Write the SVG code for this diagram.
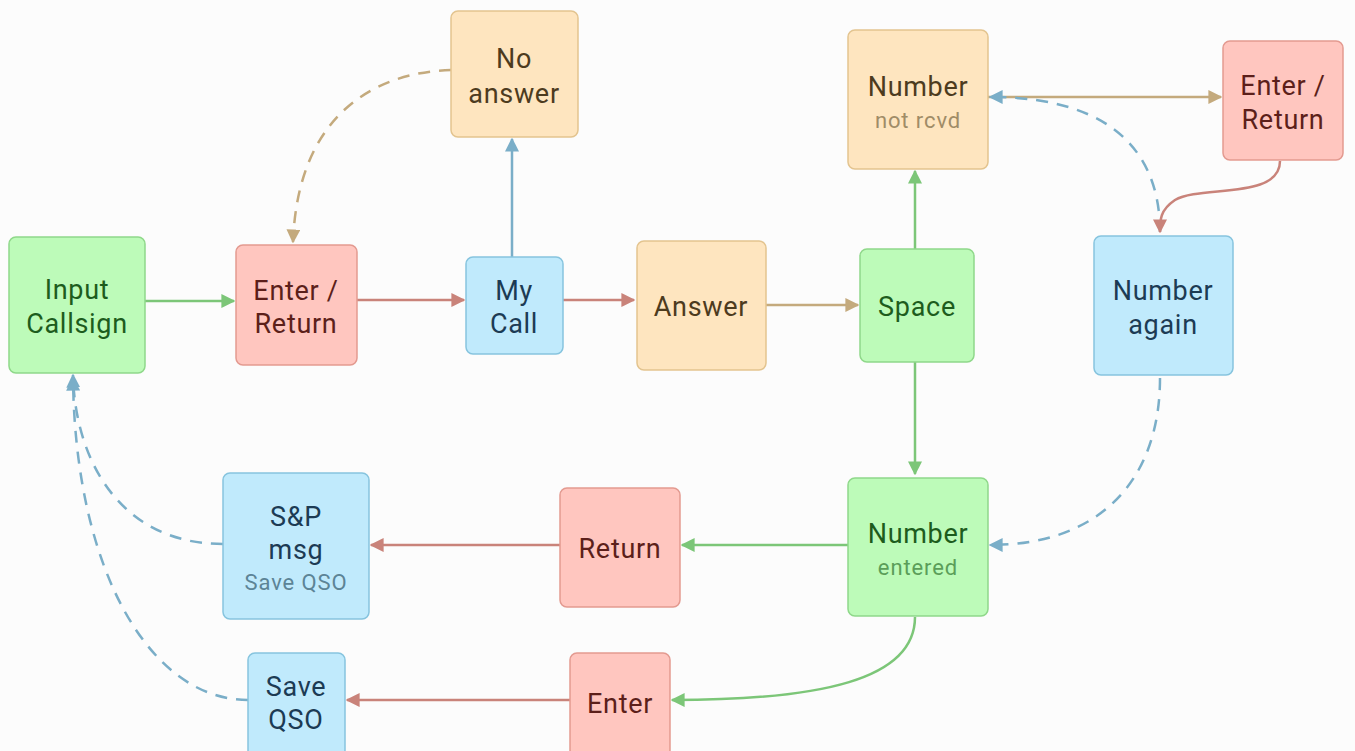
<svg xmlns="http://www.w3.org/2000/svg" width="1355" height="751" viewBox="0 0 1355 751">
<style>
.n rect{stroke-width:1.5}
.g rect{fill:#bdfbb9;stroke:#8fd88a}
.r rect{fill:#ffc6bf;stroke:#e39a90}
.b rect{fill:#c0eafc;stroke:#86c4de}
.o rect{fill:#fee5bf;stroke:#e3c48f}
text{font-family:Roboto,"Liberation Sans",sans-serif;font-size:27px;font-weight:400;letter-spacing:0.7px;text-anchor:middle;dominant-baseline:central}
.g text{fill:#1d5c1d}.r text{fill:#5c1f1a}.b text{fill:#1c3b54}.o text{fill:#4d3b1e}
text.s{font-size:22px;letter-spacing:0.9px}
.g text.s{fill:#5b9e59}.b text.s{fill:#5c8496}.o text.s{fill:#a08c67}
#edges path{fill:none;stroke-width:2.5}
.eg{stroke:#7cc678}.er{stroke:#c9837a}.eb{stroke:#7aaec8}.et{stroke:#c4aa7d}
.d{stroke-dasharray:12 9}
</style>
<defs>
<marker id="ag" viewBox="0 0 10 10" refX="9" refY="5" markerWidth="14" markerHeight="14" markerUnits="userSpaceOnUse" orient="auto"><path d="M0,0L10,5L0,10z" fill="#7cc678"/></marker>
<marker id="ar" viewBox="0 0 10 10" refX="9" refY="5" markerWidth="14" markerHeight="14" markerUnits="userSpaceOnUse" orient="auto"><path d="M0,0L10,5L0,10z" fill="#c9837a"/></marker>
<marker id="ab" viewBox="0 0 10 10" refX="9" refY="5" markerWidth="14" markerHeight="14" markerUnits="userSpaceOnUse" orient="auto"><path d="M0,0L10,5L0,10z" fill="#7aaec8"/></marker>
<marker id="at" viewBox="0 0 10 10" refX="9" refY="5" markerWidth="14" markerHeight="14" markerUnits="userSpaceOnUse" orient="auto"><path d="M0,0L10,5L0,10z" fill="#c4aa7d"/></marker>
</defs>
<rect width="1355" height="751" fill="#fcfcfc"/>
<g id="edges">
<path class="eg" d="M145,301H234" marker-end="url(#ag)"/>
<path class="er" d="M357,300H464" marker-end="url(#ar)"/>
<path class="er" d="M563,300H634" marker-end="url(#ar)"/>
<path class="eb" d="M512,257V139" marker-end="url(#ab)"/>
<path class="et d" d="M451,70C380,72 298,110 293,242" marker-end="url(#at)"/>
<path class="et" d="M766,305H858" marker-end="url(#at)"/>
<path class="eg" d="M915,249V171" marker-end="url(#ag)"/>
<path class="et" d="M988,97H1221" marker-end="url(#at)"/>
<path class="eb d" d="M1160,232C1160,160 1120,97 990,97" marker-end="url(#ab)"/>
<path class="er" d="M1280,161C1280,200 1200,185 1175,200C1160,210 1160,220 1160,232" marker-end="url(#ar)"/>
<path class="eg" d="M915,362V474" marker-end="url(#ag)"/>
<path class="eb d" d="M1160,378C1160,480 1100,545 990,545" marker-end="url(#ab)"/>
<path class="eg" d="M848,545H682" marker-end="url(#ag)"/>
<path class="er" d="M560,545H371" marker-end="url(#ar)"/>
<path class="eb d" d="M223,544C120,544 75,460 73,375" marker-end="url(#ab)"/>
<path class="eg" d="M915,617C915,680 820,700 672,700" marker-end="url(#ag)"/>
<path class="er" d="M570,700H347" marker-end="url(#ar)"/>
<path class="eb d" d="M248,700C150,700 75,570 73,378" marker-end="url(#ab)"/>
</g>
<g id="input-callsign" class="n g"><rect x="9" y="237" width="136" height="136" rx="7"/><text x="77" y="290">Input</text><text x="77" y="324">Callsign</text></g>
<g id="enter-return-1" class="n r"><rect x="236" y="245" width="121" height="120" rx="7"/><text x="296" y="291">Enter /</text><text x="296" y="324">Return</text></g>
<g id="my-call" class="n b"><rect x="466" y="257" width="97" height="97" rx="7"/><text x="514" y="291">My</text><text x="514" y="324">Call</text></g>
<g id="no-answer" class="n o"><rect x="451" y="11" width="127" height="126" rx="7"/><text x="514" y="59">No</text><text x="514" y="94">answer</text></g>
<g id="answer" class="n o"><rect x="637" y="241" width="129" height="129" rx="7"/><text x="701" y="307">Answer</text></g>
<g id="space" class="n g"><rect x="860" y="249" width="114" height="113" rx="7"/><text x="917" y="307">Space</text></g>
<g id="number-not-rcvd" class="n o"><rect x="848" y="30" width="140" height="139" rx="7"/><text x="918" y="87">Number</text><text class="s" x="918" y="120">not rcvd</text></g>
<g id="enter-return-2" class="n r"><rect x="1223" y="41" width="120" height="119" rx="7"/><text x="1283" y="86">Enter /</text><text x="1283" y="120">Return</text></g>
<g id="number-again" class="n b"><rect x="1094" y="236" width="139" height="139" rx="7"/><text x="1163" y="291">Number</text><text x="1163" y="325">again</text></g>
<g id="number-entered" class="n g"><rect x="848" y="478" width="140" height="138" rx="7"/><text x="918" y="534">Number</text><text class="s" x="918" y="567">entered</text></g>
<g id="return" class="n r"><rect x="560" y="488" width="120" height="119" rx="7"/><text x="620" y="549">Return</text></g>
<g id="sp-msg" class="n b"><rect x="223" y="473" width="146" height="146" rx="7"/><text x="296" y="517">S&amp;P</text><text x="296" y="550">msg</text><text class="s" x="296" y="582">Save QSO</text></g>
<g id="enter" class="n r"><rect x="570" y="653" width="100" height="104" rx="7"/><text x="620" y="704">Enter</text></g>
<g id="save-qso" class="n b"><rect x="248" y="653" width="97" height="104" rx="7"/><text x="296" y="687">Save</text><text x="296" y="720">QSO</text></g>
</svg>
